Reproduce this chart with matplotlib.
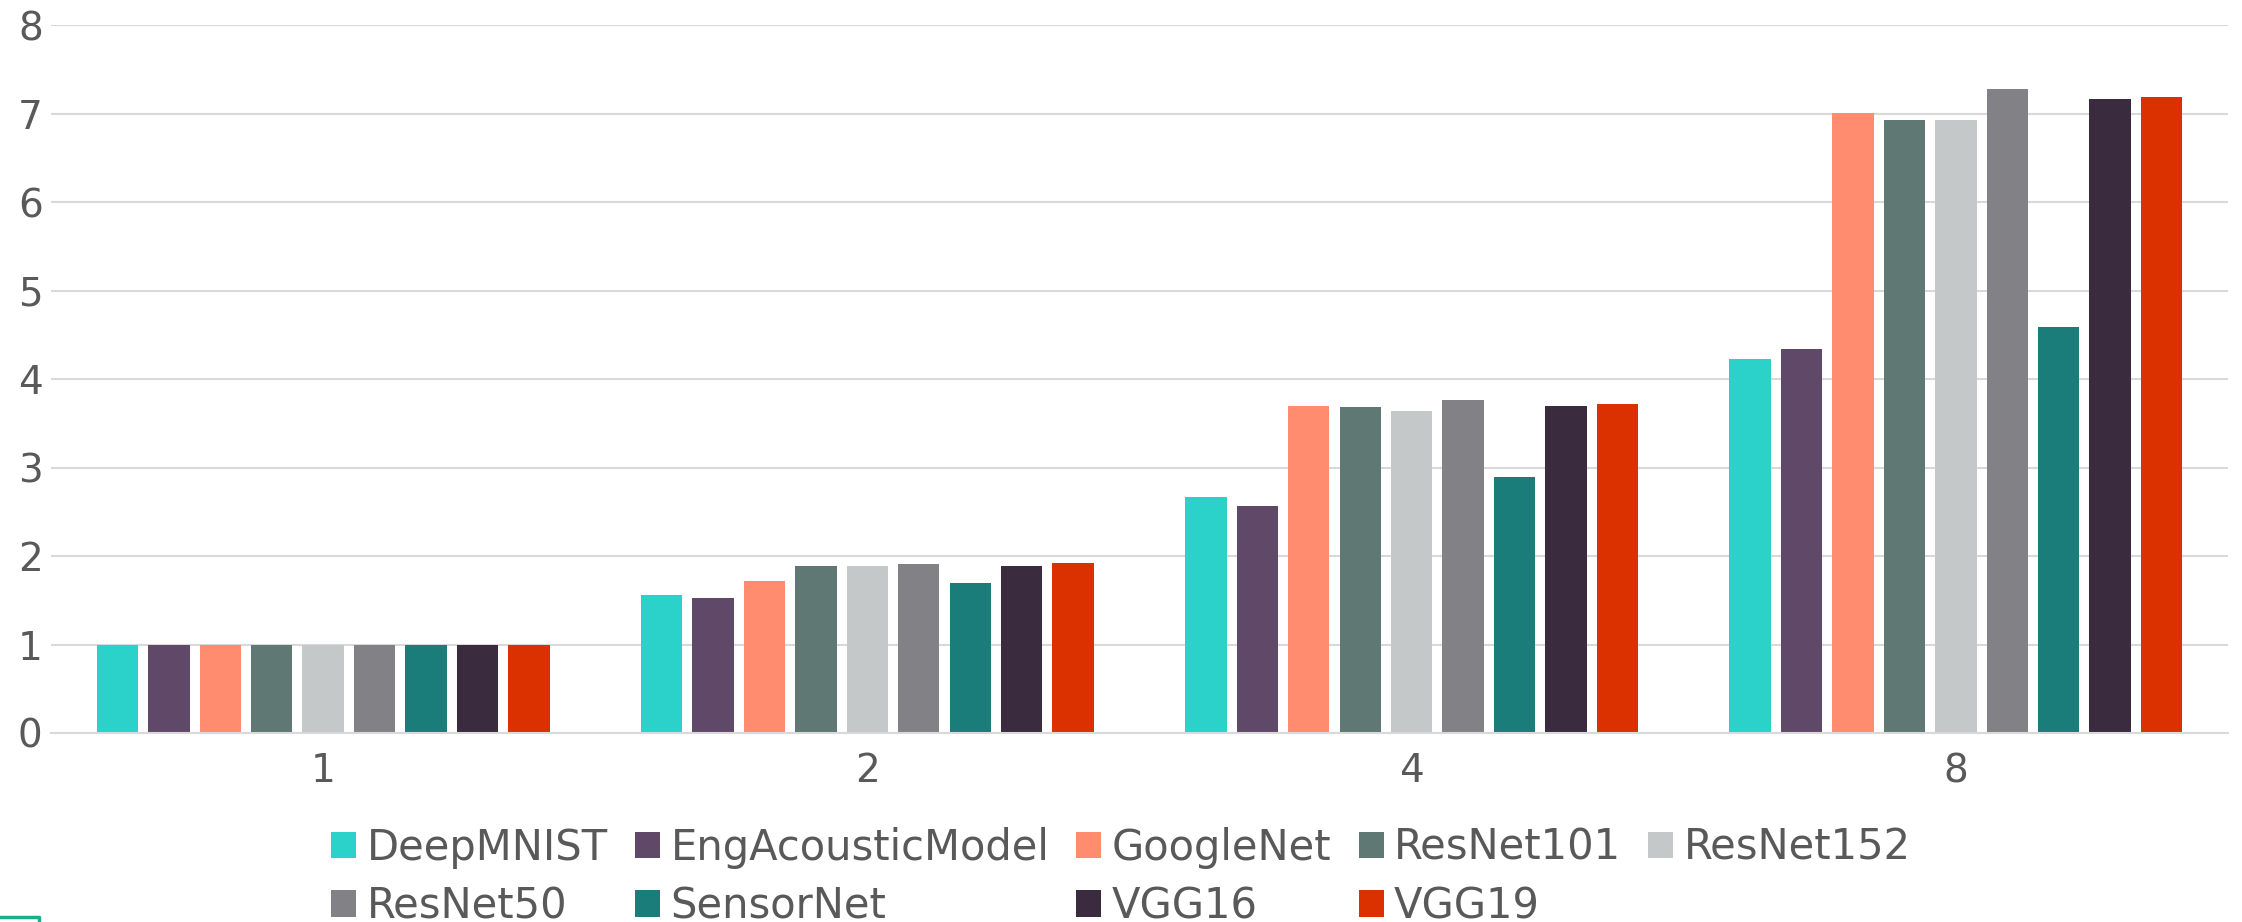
import numpy as np
import matplotlib
matplotlib.use("Agg")
import matplotlib.pyplot as plt
from matplotlib.lines import Line2D

# --- data: speedup per model vs. number of devices ---
batches = ["1", "2", "4", "8"]
models = ["DeepMNIST", "EngAcousticModel", "GoogleNet", "ResNet101", "ResNet152",
          "ResNet50", "SensorNet", "VGG16", "VGG19"]
colors = ["#2BD2CA", "#5F4868", "#FF8C6E", "#5F7874", "#C5C8C9",
          "#828286", "#1A7D7A", "#3A2B3F", "#DB3000"]

deepmnist = [1.0, 1.56, 2.67, 4.23]
engacoustic = [1.0, 1.53, 2.57, 4.34]
googlenet = [1.0, 1.72, 3.69, 7.01]
resnet101 = [1.0, 1.89, 3.68, 6.93]
resnet152 = [1.0, 1.89, 3.64, 6.93]
resnet50 = [1.0, 1.91, 3.76, 7.28]
sensornet = [1.0, 1.70, 2.89, 4.59]
vgg16 = [1.0, 1.89, 3.69, 7.16]
vgg19 = [1.0, 1.92, 3.72, 7.19]
series = [deepmnist, engacoustic, googlenet, resnet101, resnet152,
          resnet50, sensornet, vgg16, vgg19]

text_color = "#595959"
grid_color = "#D9D9D9"

fig = plt.figure(figsize=(22.42, 9.22), dpi=100)
ax = fig.add_axes([51 / 2242, 1 - 733 / 922, (2228 - 51) / 2242, (733 - 25) / 922])

x = np.arange(len(batches))
pitch = 0.0945
width = 0.076
handles = []
for i, (name, vals, c) in enumerate(zip(models, series, colors)):
    b = ax.bar(x + (i - 4) * pitch, vals, width=width, color=c, label=name, zorder=2)
    handles.append(b)

ax.set_xlim(-0.5, 3.5)
ax.set_ylim(0, 8)
ax.set_yticks(range(0, 9))
ax.set_xticks(x)
ax.set_xticklabels(batches)
ax.yaxis.grid(True, color=grid_color, linewidth=1.5)
ax.set_axisbelow(True)
for s in ["top", "right", "left"]:
    ax.spines[s].set_visible(False)
ax.spines["bottom"].set_color(grid_color)
ax.spines["bottom"].set_linewidth(1.5)
ax.tick_params(axis="both", length=0, labelsize=28, colors=text_color)
ax.tick_params(axis="y", pad=6)
ax.tick_params(axis="x", pad=14)

# legend laid out row by row: reorder for matplotlib's column-major fill
order = [0, 5, 1, 6, 2, 7, 3, 8, 4]
leg = fig.legend([handles[k] for k in order], [models[k] for k in order],
                 loc="center", bbox_to_anchor=(0.5, 1 - 877 / 922), ncol=5,
                 frameon=False, fontsize=30, handlelength=0.6, handleheight=0.6,
                 handletextpad=0.25, columnspacing=0.65, labelspacing=0.4,
                 borderpad=0)
for t in leg.get_texts():
    t.set_color(text_color)

# small frame corner at the bottom-left edge
fig.add_artist(Line2D([0, 39 / 2242, 39 / 2242], [1 - 917 / 922, 1 - 917 / 922, 0],
                      transform=fig.transFigure, color="#1AAE8A", linewidth=2.5))

fig.savefig("out.png", dpi=100)
